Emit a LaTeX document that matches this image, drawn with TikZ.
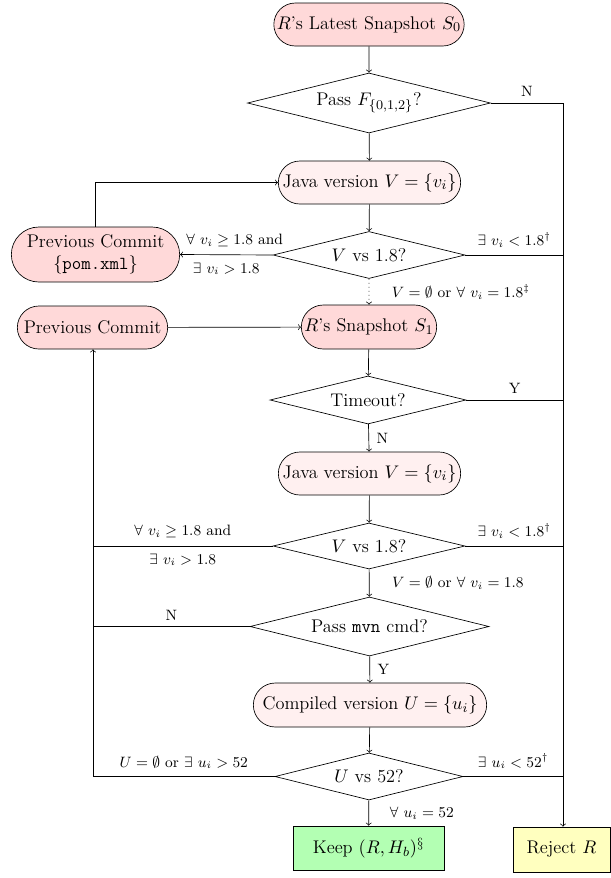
\documentclass[tikz,border=0pt]{standalone}
\usepackage{amsmath,amssymb}
\usetikzlibrary{shapes.geometric,shapes.misc,positioning,calc}

\definecolor{snappink}{RGB}{255,217,217}
\definecolor{palepink}{RGB}{255,240,240}
\definecolor{keepgreen}{RGB}{179,255,179}
\definecolor{rejyellow}{RGB}{255,255,191}

\begin{document}
\begin{tikzpicture}[x=0.6pt,y=-0.6pt,
    every node/.style={font=\fontsize{11}{13}\selectfont},
    term/.style={draw,rounded rectangle,fill=snappink,inner sep=2pt},
    proc/.style={draw,rounded rectangle,fill=palepink,inner sep=2pt},
    test/.style={draw,diamond,aspect=4,inner sep=0pt},
    stop/.style={draw,rectangle,inner sep=2pt},
    lbl/.style={font=\fontsize{9}{11}\selectfont,inner sep=1.5pt}]
      \useasboundingbox (0,0) rectangle (610,878);

      % main column
      \node[term,minimum width=118.2pt,minimum height=25.8pt] (s0) at (369,24.5) {$R$'s Latest Snapshot $S_0$};
      \node[test,minimum width=145.8pt,minimum height=36pt] (p) at (369,103) {Pass $F_{\{0,1,2\}}$?};
      \node[proc,minimum width=113.4pt,minimum height=25.8pt] (j1) at (369.5,182.5) {Java version $V = \{v_i\}$};
      \node[test,minimum width=115.2pt,minimum height=28.2pt] (v1) at (369,255) {$V$ vs 1.8?};
      \node[term,minimum width=85.2pt,minimum height=26.4pt] (s1) at (369,327) {$R$'s Snapshot $S_1$};
      \node[test,minimum width=117.6pt,minimum height=28.8pt] (t) at (368,400) {Timeout?};
      \node[proc,minimum width=113.4pt,minimum height=25.8pt] (j2) at (369.5,473.5) {Java version $V = \{v_i\}$};
      \node[test,minimum width=115.2pt,minimum height=27.6pt] (v2) at (369,546) {$V$ vs 1.8?};
      \node[test,minimum width=143.4pt,minimum height=35.4pt] (m) at (369.5,626.5) {Pass \texttt{mvn} cmd?};
      \node[proc,minimum width=144pt,minimum height=26.4pt] (c) at (370,705) {Compiled version $U = \{u_i\}$};
      \node[test,minimum width=112.8pt,minimum height=28.2pt] (u) at (369,776.5) {$U$ vs 52?};
      \node[stop,fill=keepgreen,minimum width=90.6pt,minimum height=26.4pt] (k) at (368.5,848) {Keep $(R, H_b)^\S$};
      \node[stop,fill=rejyellow,minimum width=58.2pt,minimum height=27pt] (rj) at (561.5,849.5) {Reject $R$};

      % side nodes
      \node[term,align=center,minimum width=105pt,minimum height=33pt] (pc1) at (95.5,254.5) {Previous Commit\\\{\texttt{pom.xml}\}};
      \node[term,minimum width=94.2pt,minimum height=25.8pt] (pc2) at (92.5,327.5) {Previous Commit};

      \coordinate (rt) at (563,103);
      \coordinate (lb) at (93,776.5);

      \draw[->] (s0) -- (p);
      \draw[->] (p) -- (j1);
      \draw[->] (j1) -- (v1);
      \draw[->,dotted] (v1) -- node[lbl,anchor=west,xshift=12pt] {$V = \emptyset$ or $\forall\ v_i = 1.8^\ddagger$} (s1);
      \draw[->] (s1) -- (t);
      \draw[->] (t) -- node[lbl,anchor=west,xshift=3pt] {N} (j2);
      \draw[->] (j2) -- (v2);
      \draw[->] (v2) -- node[lbl,anchor=west,xshift=12pt] {$V = \emptyset$ or $\forall\ v_i = 1.8$} (m);
      \draw[->] (m) -- node[lbl,anchor=west,xshift=3pt] {Y} (c);
      \draw[->] (c) -- (u);
      \draw[->] (u) -- node[lbl,anchor=west,xshift=11pt] {$\forall\ u_i = 52$} (k);

      % reject line
      \draw[->] (p.east) -- node[lbl,above=2pt] {N} (rt) -- (rt |- rj.north);
      \draw (v1.east) -- node[lbl,above=3pt] {$\exists\ v_i < 1.8^\dagger$} (v1.east -| rt);
      \draw (t.east) -- node[lbl,above=2pt] {Y} (t.east -| rt);
      \draw (v2.east) -- node[lbl,above=3pt] {$\exists\ v_i < 1.8^\dagger$} (v2.east -| rt);
      \draw (u.east) -- node[lbl,above=3pt] {$\exists\ u_i < 52^\dagger$} (u.east -| rt);

      % first loop
      \draw[->] (v1.west) -- node[lbl,above=3pt,xshift=5pt] {$\forall\ v_i \geq 1.8$ and} node[lbl,below=3pt] {$\exists\ v_i > 1.8$} (pc1.east);
      \draw[->] (pc1.north) |- (j1.west);
      \draw[->] (pc2) -- (s1);

      % second loop
      \draw[->] (u.west) -- node[lbl,above=3pt] {$U = \emptyset$ or $\exists\ u_i > 52$} (lb) -- (lb |- pc2.south);
      \draw (v2.west) -- node[lbl,above=3pt] {$\forall\ v_i \geq 1.8$ and} node[lbl,below=3pt] {$\exists\ v_i > 1.8$} (v2.west -| lb);
      \draw (m.west) -- node[lbl,above=2pt] {N} (m.west -| lb);
    \end{tikzpicture}
\end{document}
